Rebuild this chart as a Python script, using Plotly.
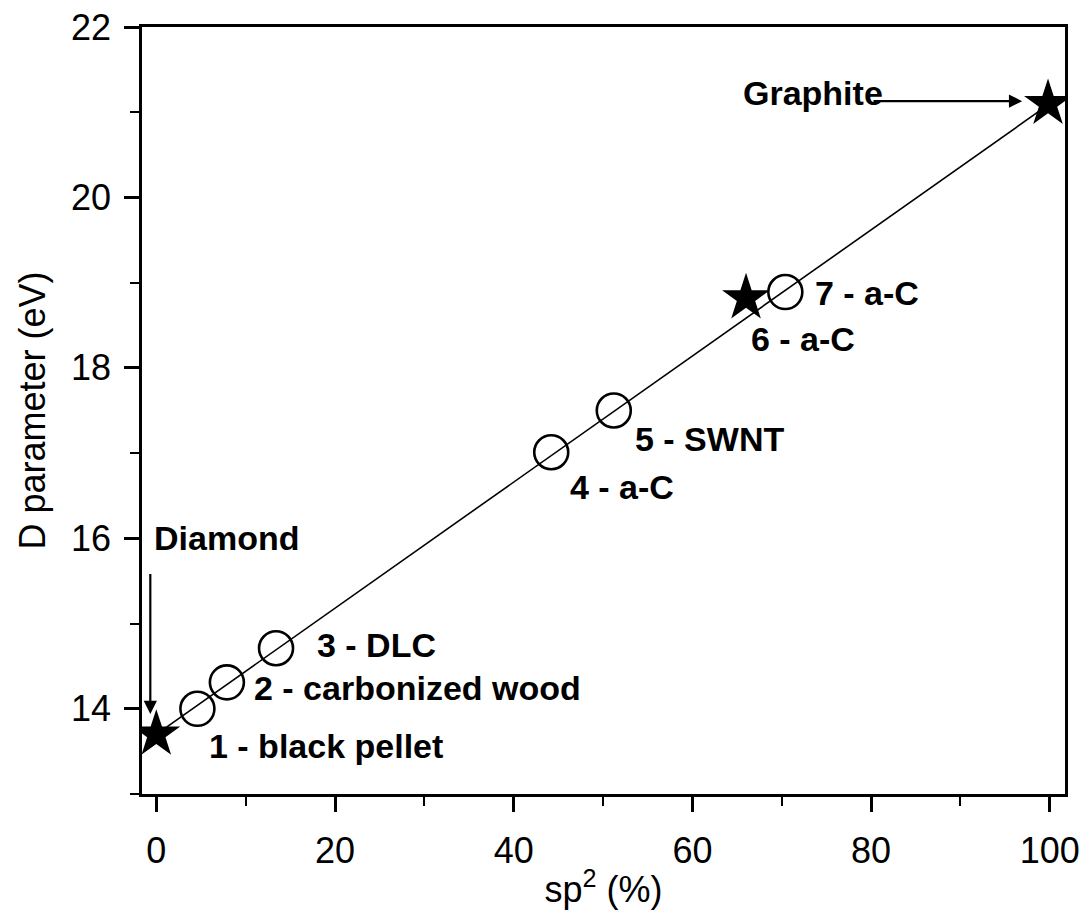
import plotly.graph_objects as go

# Data
star_x = [0.0, 66.0, 99.8]          # Diamond (1), a-C (6), Graphite
star_y = [13.70, 18.82, 21.10]
circle_x = [4.6, 7.9, 13.4, 44.2, 51.2, 70.4]
circle_y = [14.00, 14.31, 14.71, 17.01, 17.50, 18.89]
fit_x = [0.0, 100.0]
fit_y = [13.70, 21.10]
labels = ["1 - black pellet", "2 - carbonized wood", "3 - DLC", "4 - a-C",
          "5 - SWNT", "6 - a-C", "7 - a-C"]
x_ticks = [0, 20, 40, 60, 80, 100]
y_ticks = [14, 16, 18, 20, 22]

FONT = "Liberation Sans, Arial, sans-serif"
LABEL_SIZE = 34

fig = go.Figure()
fig.add_trace(go.Scatter(x=fit_x, y=fit_y, mode="lines",
                         line=dict(color="black", width=1.6), showlegend=False))
fig.add_trace(go.Scatter(x=circle_x, y=circle_y, mode="markers",
                         marker=dict(symbol="circle-open", size=34, color="black",
                                     line=dict(width=2.6, color="black")),
                         showlegend=False))
fig.add_trace(go.Scatter(x=star_x, y=star_y, mode="markers",
                         marker=dict(symbol="star", size=36, color="black",
                                     line=dict(width=0)),
                         showlegend=False))

label_pos = [(5.7, 13.56), (10.7, 14.24), (17.8, 14.75), (46.1, 16.60),
             (53.3, 17.16), (66.3, 18.34), (73.5, 18.88)]
annotations = []
for txt, (lx, ly) in zip(labels, label_pos):
    annotations.append(dict(x=lx, y=ly, xref="x", yref="y", text="<b>%s</b>" % txt,
                            showarrow=False, xanchor="left", yanchor="middle",
                            font=dict(family=FONT, size=LABEL_SIZE, color="black")))
annotations.append(dict(x=-0.45, y=16.0, xref="x", yref="y", text="<b>Diamond</b>",
                        showarrow=False, xanchor="left", yanchor="middle",
                        font=dict(family=FONT, size=LABEL_SIZE, color="black")))
annotations.append(dict(x=65.4, y=21.23, xref="x", yref="y", text="<b>Graphite</b>",
                        showarrow=False, xanchor="left", yanchor="middle",
                        font=dict(family=FONT, size=LABEL_SIZE, color="black")))
# arrows
annotations.append(dict(x=-0.67, y=13.94, ax=-0.67, ay=15.6, xref="x", yref="y",
                        axref="x", ayref="y", text="", showarrow=True,
                        arrowhead=2, arrowsize=1.2, arrowwidth=2.2, arrowcolor="black"))
annotations.append(dict(x=96.9, y=21.13, ax=80.1, ay=21.13, xref="x", yref="y",
                        axref="x", ayref="y", text="", showarrow=True,
                        arrowhead=2, arrowsize=1.2, arrowwidth=2.2, arrowcolor="black"))

axis_common = dict(showline=True, linecolor="black", linewidth=2.6, mirror=True,
                   ticks="outside", ticklen=15, tickwidth=2.6, tickcolor="black",
                   showgrid=False, zeroline=False, automargin=False,
                   ticklabeloverflow="allow",
                   tickfont=dict(family=FONT, size=36, color="black"),
                   title_font=dict(family=FONT, size=36, color="black"))

# the page body has an 8px default margin, so the figure is drawn 8px in
fig.update_layout(
    width=1080, height=912,
    margin=dict(l=134, r=23, t=19, b=126),
    paper_bgcolor="white", plot_bgcolor="white",
    annotations=annotations,
    xaxis=dict(range=[-1.6, 101.7], tickvals=x_ticks, ticklabelstandoff=8,
               minor=dict(ticks="outside", ticklen=9, tickwidth=2.2, tickcolor="black",
                          dtick=10, tick0=0),
               title=dict(text="sp<sup>2</sup> (%)", standoff=7),
               **axis_common),
    yaxis=dict(range=[13, 22], tickvals=y_ticks, ticklabelstandoff=6,
               minor=dict(ticks="outside", ticklen=9, tickwidth=2.2, tickcolor="black",
                          dtick=1, tick0=13),
               title=dict(text="D parameter (eV)", standoff=15),
               **axis_common),
)

fig.write_html("out.html")
